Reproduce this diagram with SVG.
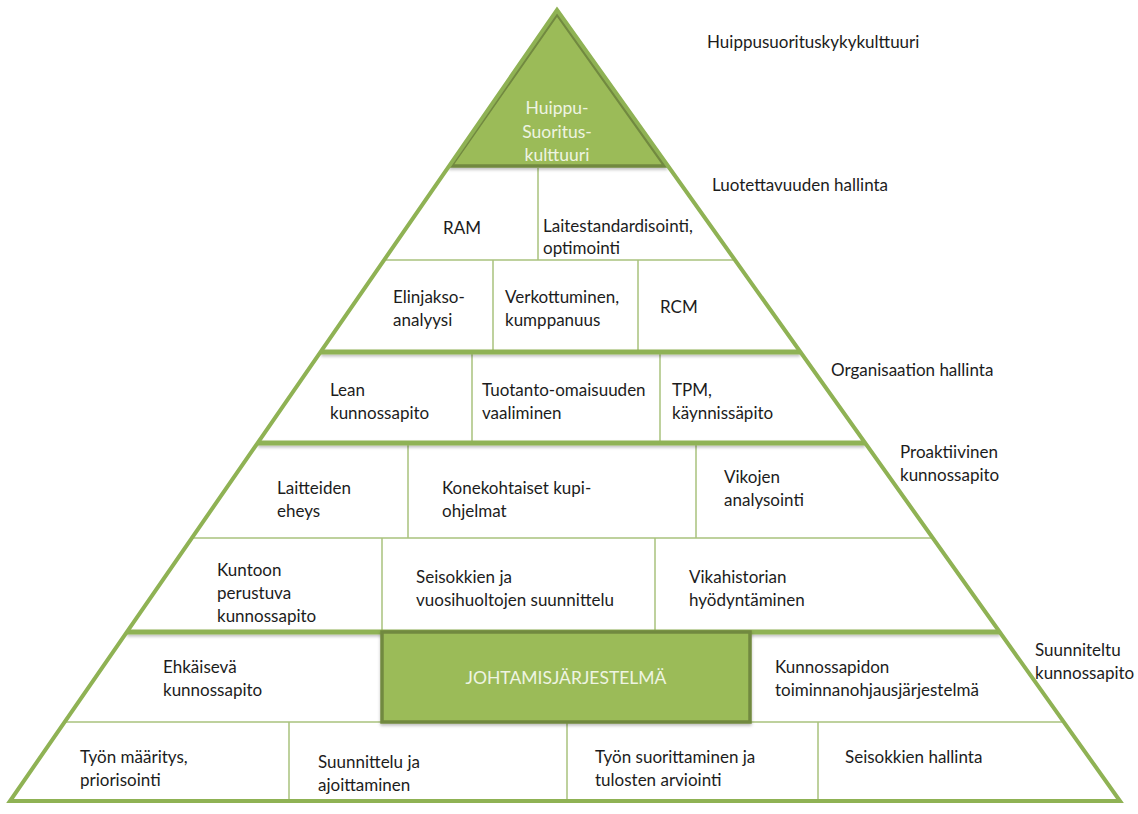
<svg xmlns="http://www.w3.org/2000/svg" width="1138" height="814" viewBox="0 0 1138 814">
  <defs>
    <style>
      .t { font-family: Lato, "Liberation Sans", sans-serif; font-size: 17px; fill: #1c1c1c; }
      .tw { font-family: Lato, "Liberation Sans", sans-serif; font-size: 17.5px; fill: #eef4e2; }
      .thin { stroke: #a9c27c; stroke-width: 1.5; fill: none; }
      .thick { stroke: #8fb254; stroke-width: 5; fill: none; }
      .edge { stroke: #8fb254; stroke-width: 4; fill: none; stroke-linejoin: miter; }
      .greenbox { fill: #9bbb59; stroke: #71893f; stroke-width: 3.5; }
    </style>
    <filter id="shadow" x="-5%" y="-20%" width="110%" height="160%">
      <feDropShadow dx="0" dy="2" stdDeviation="1.5" flood-color="#000" flood-opacity="0.25"/>
    </filter>
  </defs>

  <rect width="1138" height="814" fill="#ffffff"/>

  <!-- pyramid grid: tier separators and cell dividers -->
  <g id="grid">
    <!-- thin row separators -->
    <line class="thin" x1="384" y1="260" x2="735" y2="260"/>
    <line class="thin" x1="192" y1="538" x2="933" y2="538"/>
    <line class="thin" x1="65" y1="722" x2="1064" y2="722"/>
    <!-- cell dividers -->
    <line class="thin" x1="538" y1="168" x2="538" y2="260"/>
    <line class="thin" x1="493" y1="260" x2="493" y2="352"/>
    <line class="thin" x1="638" y1="260" x2="638" y2="352"/>
    <line class="thin" x1="472" y1="352" x2="472" y2="443"/>
    <line class="thin" x1="660" y1="352" x2="660" y2="443"/>
    <line class="thin" x1="408" y1="443" x2="408" y2="538"/>
    <line class="thin" x1="696" y1="443" x2="696" y2="538"/>
    <line class="thin" x1="382" y1="538" x2="382" y2="632"/>
    <line class="thin" x1="655" y1="538" x2="655" y2="632"/>
    <line class="thin" x1="289" y1="722" x2="289" y2="801"/>
    <line class="thin" x1="567" y1="722" x2="567" y2="801"/>
    <line class="thin" x1="818" y1="722" x2="818" y2="801"/>
    <!-- thick tier separators -->
    <g filter="url(#shadow)">
      <line class="thick" x1="321" y1="352" x2="800" y2="352"/>
      <line class="thick" x1="258" y1="443" x2="865" y2="443"/>
      <line class="thick" x1="127" y1="632" x2="1000" y2="632"/>
    </g>
  </g>

  <!-- apex -->
  <g id="apex">
    <polygon class="greenbox" points="557,14 451,166 665,166" filter="url(#shadow)"/>
    <text class="tw" x="557" y="114" text-anchor="middle">Huippu-</text>
    <text class="tw" x="557" y="138" text-anchor="middle">Suoritus-</text>
    <text class="tw" x="557" y="161" text-anchor="middle">kulttuuri</text>
  </g>

  <!-- outer pyramid outline -->
  <g id="outline">
    <polygon class="edge" points="557,10 1120,801 10,801"/>
  </g>

  <!-- tier labels -->
  <g id="label-huippu"><text class="t" x="707" y="48">Huippusuorituskykykulttuuri</text></g>
  <g id="label-luotettavuus"><text class="t" x="712" y="191">Luotettavuuden hallinta</text></g>
  <g id="label-organisaatio"><text class="t" x="831" y="376">Organisaation hallinta</text></g>
  <g id="label-proaktiivinen">
    <text class="t" x="900" y="458">Proaktiivinen</text>
    <text class="t" x="900" y="481">kunnossapito</text>
  </g>
  <g id="label-suunniteltu">
    <text class="t" x="1035" y="656">Suunniteltu</text>
    <text class="t" x="1035" y="679">kunnossapito</text>
  </g>

  <!-- reliability management -->
  <g id="ram"><text class="t" x="443" y="234">RAM</text></g>
  <g id="laitestandardisointi">
    <text class="t" x="543" y="232">Laitestandardisointi,</text>
    <text class="t" x="543" y="254">optimointi</text>
  </g>
  <g id="elinjakso">
    <text class="t" x="393" y="303">Elinjakso-</text>
    <text class="t" x="393" y="326">analyysi</text>
  </g>
  <g id="verkottuminen">
    <text class="t" x="505" y="303">Verkottuminen,</text>
    <text class="t" x="505" y="326">kumppanuus</text>
  </g>
  <g id="rcm"><text class="t" x="660" y="313">RCM</text></g>

  <!-- organisation management -->
  <g id="lean">
    <text class="t" x="330" y="396">Lean</text>
    <text class="t" x="330" y="419">kunnossapito</text>
  </g>
  <g id="tuotanto">
    <text class="t" x="482" y="396">Tuotanto-omaisuuden</text>
    <text class="t" x="482" y="419">vaaliminen</text>
  </g>
  <g id="tpm">
    <text class="t" x="672" y="396">TPM,</text>
    <text class="t" x="672" y="419">käynnissäpito</text>
  </g>

  <!-- proactive maintenance -->
  <g id="laitteiden-eheys">
    <text class="t" x="277" y="494">Laitteiden</text>
    <text class="t" x="277" y="517">eheys</text>
  </g>
  <g id="kupi-ohjelmat">
    <text class="t" x="442" y="494">Konekohtaiset kupi-</text>
    <text class="t" x="442" y="517">ohjelmat</text>
  </g>
  <g id="vikojen-analysointi">
    <text class="t" x="724" y="483">Vikojen</text>
    <text class="t" x="724" y="506">analysointi</text>
  </g>
  <g id="kuntoon-perustuva">
    <text class="t" x="217" y="576">Kuntoon</text>
    <text class="t" x="217" y="599">perustuva</text>
    <text class="t" x="217" y="622">kunnossapito</text>
  </g>
  <g id="seisokkien-suunnittelu">
    <text class="t" x="416" y="583">Seisokkien ja</text>
    <text class="t" x="416" y="606">vuosihuoltojen suunnittelu</text>
  </g>
  <g id="vikahistoria">
    <text class="t" x="689" y="583">Vikahistorian</text>
    <text class="t" x="689" y="606">hyödyntäminen</text>
  </g>

  <!-- planned maintenance -->
  <g id="ehkaiseva">
    <text class="t" x="163" y="673">Ehkäisevä</text>
    <text class="t" x="163" y="696">kunnossapito</text>
  </g>
  <g id="johtamisjarjestelma">
    <rect class="greenbox" x="382" y="632" width="368" height="90" filter="url(#shadow)"/>
    <text class="tw" x="566" y="684" text-anchor="middle">JOHTAMISJÄRJESTELMÄ</text>
  </g>
  <g id="toiminnanohjaus">
    <text class="t" x="775" y="673">Kunnossapidon</text>
    <text class="t" x="775" y="696">toiminnanohjausjärjestelmä</text>
  </g>
  <g id="tyon-maaritys">
    <text class="t" x="80" y="763">Työn määritys,</text>
    <text class="t" x="80" y="786">priorisointi</text>
  </g>
  <g id="suunnittelu-ajoitus">
    <text class="t" x="318" y="768">Suunnittelu ja</text>
    <text class="t" x="318" y="791">ajoittaminen</text>
  </g>
  <g id="tyon-suorittaminen">
    <text class="t" x="595" y="763">Työn suorittaminen ja</text>
    <text class="t" x="595" y="786">tulosten arviointi</text>
  </g>
  <g id="seisokkien-hallinta"><text class="t" x="845" y="763">Seisokkien hallinta</text></g>
</svg>
